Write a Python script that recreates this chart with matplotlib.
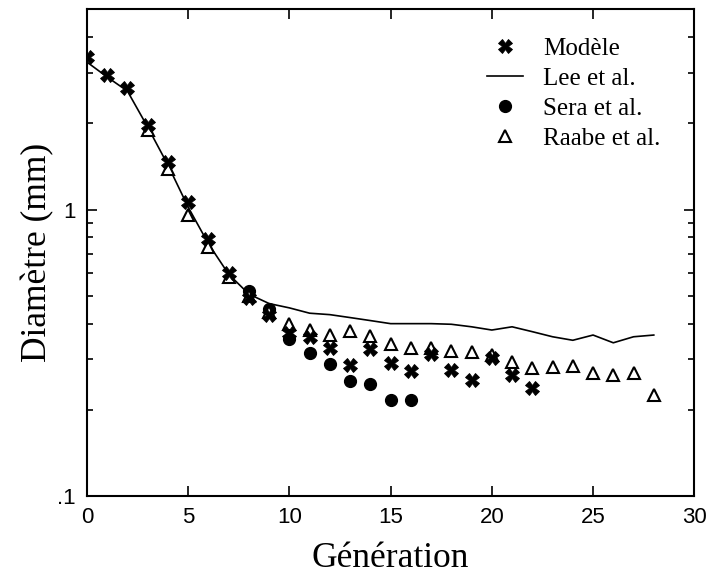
import matplotlib
matplotlib.use("Agg")
import matplotlib.pyplot as plt
from matplotlib.ticker import LogLocator, FixedLocator, NullFormatter, FixedFormatter

# Modèle (crosses)
gen_model = list(range(0, 23))
diam_model = [3.40, 2.94, 2.65, 1.97, 1.46, 1.06, 0.79, 0.60, 0.49, 0.43, 0.37, 0.36,
              0.33, 0.287, 0.327, 0.292, 0.274, 0.314, 0.276, 0.255, 0.304, 0.264, 0.239]

# Lee et al. (line)
gen_lee = list(range(0, 29))
diam_lee = [3.27, 2.90, 2.59, 1.94, 1.43, 1.02, 0.76, 0.595, 0.507, 0.47, 0.454, 0.435,
            0.43, 0.42, 0.41, 0.40, 0.40, 0.40, 0.398, 0.39, 0.38, 0.39, 0.375, 0.36,
            0.35, 0.365, 0.343, 0.36, 0.365]

# Sera et al. (filled circles)
gen_sera = list(range(8, 17))
diam_sera = [0.52, 0.45, 0.354, 0.316, 0.29, 0.253, 0.247, 0.217, 0.216]

# Raabe et al. (open triangles)
gen_raabe = list(range(3, 29))
diam_raabe = [1.90, 1.38, 0.96, 0.74, 0.58, 0.50, 0.44, 0.40, 0.38, 0.365, 0.377, 0.362,
              0.34, 0.33, 0.33, 0.32, 0.319, 0.31, 0.294, 0.28, 0.283, 0.285, 0.27, 0.264,
              0.27, 0.226]

fig = plt.figure(figsize=(7.07, 5.77), dpi=100)
ax = fig.add_axes([0.123, 0.140, 0.859, 0.844])

ax.plot(gen_model, diam_model, linestyle="none", marker="X", color="black",
        markersize=10, markeredgewidth=0.6, label="Modèle", zorder=4)
ax.plot(gen_lee, diam_lee, color="black", linewidth=1.2, label="Lee et al.", zorder=2)
ax.plot(gen_sera, diam_sera, linestyle="none", marker="o", color="black",
        markersize=8.5, label="Sera et al.", zorder=3)
ax.plot(gen_raabe, diam_raabe, linestyle="none", marker="^", markerfacecolor="white",
        markeredgecolor="black", markeredgewidth=1.5, markersize=8, label="Raabe et al.", zorder=3)

ax.set_yscale("log")
ax.set_xlim(0, 30)
ax.set_ylim(0.1, 5)

ax.xaxis.set_major_locator(FixedLocator([0, 5, 10, 15, 20, 25, 30]))
ax.yaxis.set_major_locator(FixedLocator([0.1, 1]))
ax.yaxis.set_major_formatter(FixedFormatter([".1", "1"]))
ax.yaxis.set_minor_locator(LogLocator(base=10, subs=range(2, 10)))
ax.yaxis.set_minor_formatter(NullFormatter())

ax.tick_params(which="both", direction="in", top=True, right=True, width=1.2)
ax.tick_params(which="major", length=7, labelsize=16, pad=8)
ax.tick_params(which="minor", length=4)
for lab in ax.get_xticklabels() + ax.get_yticklabels():
    lab.set_family("Liberation Sans")
for sp in ax.spines.values():
    sp.set_linewidth(1.5)

ax.set_xlabel("Génération", family="Liberation Serif", fontsize=25.5, labelpad=10)
ax.set_ylabel("Diamètre (mm)", family="Liberation Serif", fontsize=25.5, labelpad=2)

ax.legend(loc="upper right", bbox_to_anchor=(0.961, 0.962), frameon=False,
          prop={"family": "Liberation Serif", "size": 18},
          handlelength=1.45, handletextpad=0.8, labelspacing=0.3, borderaxespad=0)

fig.savefig("out.png", dpi=100)
